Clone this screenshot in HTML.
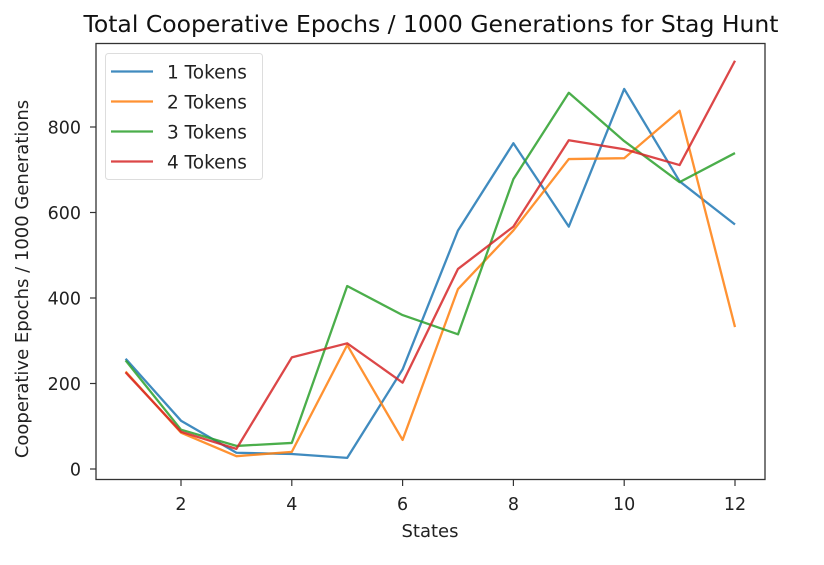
<!DOCTYPE html>
<html><head><meta charset="utf-8"><style>
body{margin:0;background:#fff;}
svg{font-family:"DejaVu Sans","Liberation Sans",sans-serif;}
</style></head><body>
<svg width="824" height="560" id="chart">
<rect width="824" height="560" fill="#fff"/>
<text x="431" y="32" text-anchor="middle" font-size="23.5" fill="#111">Total Cooperative Epochs / 1000 Generations for Stag Hunt</text>
<rect x="96" y="43.5" width="669" height="436" fill="none" stroke="#333" stroke-width="1.3"/>
<g id="xticks"></g><g id="yticks"></g><g id="series"></g>
<text x="430" y="537" text-anchor="middle" font-size="18" fill="#222">States</text>
<text transform="translate(28,279) rotate(-90)" text-anchor="middle" font-size="18" fill="#222">Cooperative Epochs / 1000 Generations</text>
<g id="legend"></g>
</svg>
<script>
const states=[1,2,3,4,5,6,7,8,9,10,11,12];
const tokens1=[258,113,38,35,26,233,558,762,567,889,673,572];
const tokens2=[228,85,30,40,290,68,421,558,725,727,838,332];
const tokens3=[254,92,54,61,428,360,315,678,880,767,671,739];
const tokens4=[226,87,47,261,294,202,468,567,769,748,711,955];
const seriesNames=["1 Tokens","2 Tokens","3 Tokens","4 Tokens"];
const xTicks=[2,4,6,8,10,12];
const yTicks=[0,200,400,600,800];
const colors=["#1f77b4","#ff7f0e","#2ca02c","#d62728"];
const NS="http://www.w3.org/2000/svg";
function X(v){return 125.6+(v-1)*55.4;}
function Y(v){return 469-v*0.4275;}
function mk(t,a,p){const e=document.createElementNS(NS,t);for(const k in a)e.setAttribute(k,a[k]);p.appendChild(e);return e;}
const xg=document.getElementById('xticks');
xTicks.forEach(t=>{
 const l=mk('line',{x1:X(t),x2:X(t),y1:480,y2:486,stroke:'#333','stroke-width':1.2},xg);
 
 
 const tx=mk('text',{x:X(t),y:510,'text-anchor':'middle','font-size':17.5,fill:'#222'},xg);
 tx.textContent=t;
 
 
});
const yg=document.getElementById('yticks');
yTicks.forEach(t=>{
 const l=mk('line',{x1:90,x2:96,y1:Y(t),y2:Y(t),stroke:'#333','stroke-width':1.2},yg);
 
 
 const tx=mk('text',{x:81,y:Y(t)+6.5,'text-anchor':'end','font-size':17.5,fill:'#222'},yg);
 tx.textContent=t;
 
 
});
const sg=document.getElementById('series');
[tokens1,tokens2,tokens3,tokens4].forEach((d,i)=>{
 const p=mk('polyline',{points:d.map((v,j)=>X(states[j])+','+Y(v)).join(' '),fill:'none',stroke:colors[i],'stroke-width':2.3,'stroke-opacity':0.85,'stroke-linejoin':'round'},sg);
 
 
});
const lg=document.getElementById('legend');
const box=mk('rect',{x:105.5,y:53.5,width:157,height:126,rx:3,fill:'#fff','fill-opacity':0.85,stroke:'#ddd'},lg);


seriesNames.forEach((n,i)=>{
 const y=71.5+i*30;
 const l=mk('line',{x1:111,x2:153,y1:y,y2:y,stroke:colors[i],'stroke-width':2.3,'stroke-opacity':0.85},lg);
 
 
 const t=mk('text',{x:167,y:y+7,'font-size':18.5,fill:'#222'},lg);
 t.textContent=n;
 
 
});
</script>
</body></html>
